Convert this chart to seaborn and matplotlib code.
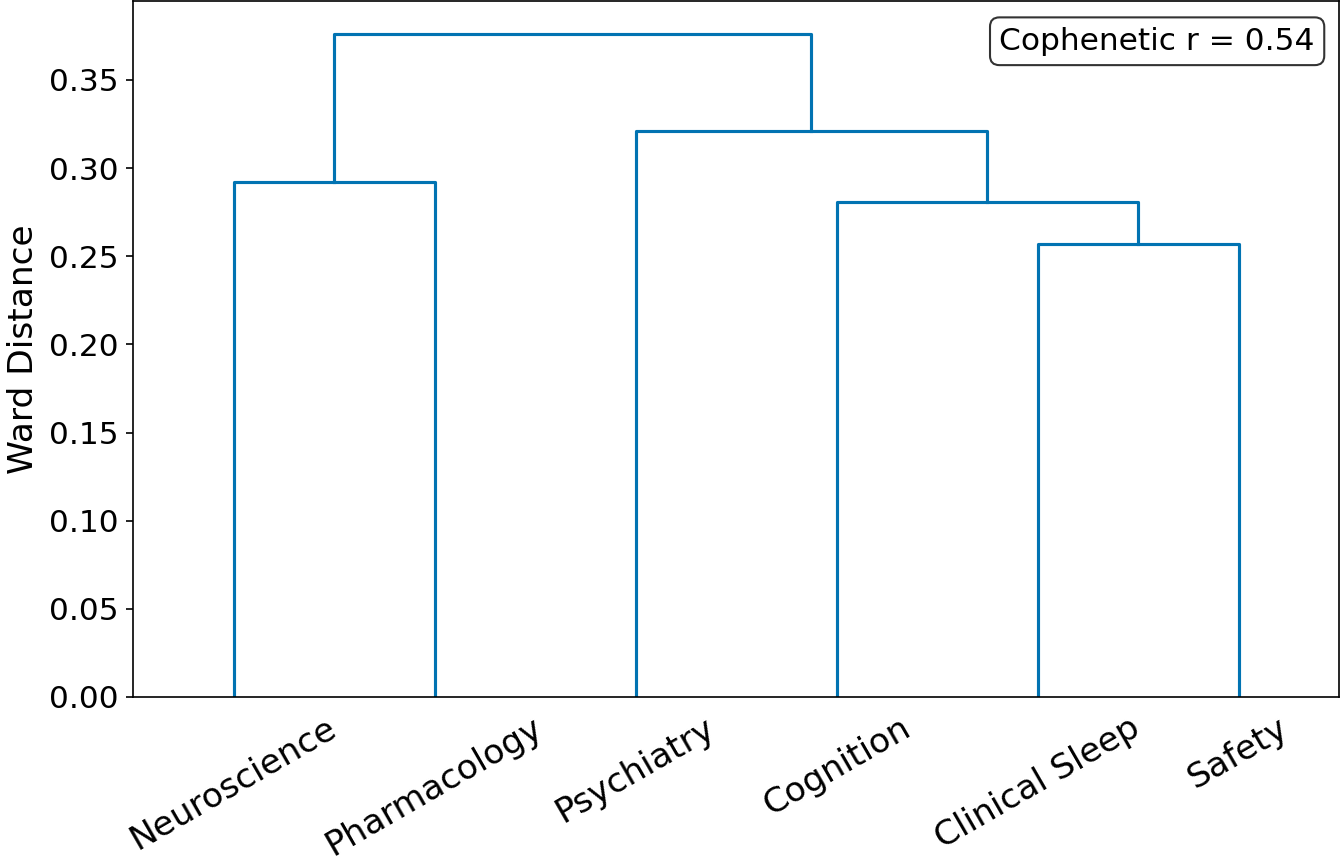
import numpy as np
import pandas as pd
import matplotlib.pyplot as plt
import seaborn as sns

# leaves in display order
labels = ["Neuroscience", "Pharmacology", "Psychiatry", "Cognition", "Clinical Sleep", "Safety"]
# linkage: (left node, right node, height); new nodes numbered from len(labels)
merge_left = [4, 3, 0, 2, 8]
merge_right = [5, 6, 1, 7, 9]
merge_height = [0.257, 0.281, 0.292, 0.321, 0.376]
cophenetic_r = 0.54

# build the dendrogram segments (scipy style: leaves at 5, 15, 25, ...)
pos = {i: 5 + 10 * i for i in range(len(labels))}
hgt = {i: 0.0 for i in range(len(labels))}
rows = []
for k, (a, b, h) in enumerate(zip(merge_left, merge_right, merge_height)):
    xs = [pos[a], pos[a], pos[b], pos[b]]
    ys = [hgt[a], h, h, hgt[b]]
    for j, (x, y) in enumerate(zip(xs, ys)):
        rows.append({"link": k, "order": j, "x": x, "y": y})
    node = len(labels) + k
    pos[node] = (pos[a] + pos[b]) / 2
    hgt[node] = h
df = pd.DataFrame(rows)

fig = plt.figure(figsize=(1340 / 150, 862 / 150), dpi=150)
ax = fig.add_axes([133 / 1340, 165 / 862, 1206 / 1340, 696 / 862])

sns.lineplot(data=df, x="x", y="y", units="link", estimator=None, sort=False,
             color="#0173b2", linewidth=1.5, ax=ax)

ax.set_xlim(0, 10 * len(labels))
ax.set_ylim(0, max(merge_height) * 1.05)
ax.set_xticks([5 + 10 * i for i in range(len(labels))])
ax.set_xticklabels(labels, rotation=30, fontsize=16.5)
ax.tick_params(axis="x", bottom=False)
yt = np.arange(0, 0.36, 0.05)
ax.set_yticks(yt)
ax.set_yticklabels([f"{v:.2f}" for v in yt], fontsize=15)
ax.set_xlabel("")
ax.set_ylabel("Ward Distance", fontsize=16.5)

ax.text(0.98, 0.963, f"Cophenetic r = {cophenetic_r:.2f}", transform=ax.transAxes,
        ha="right", va="top", fontsize=15,
        bbox=dict(boxstyle="round", facecolor="white", edgecolor="black", alpha=0.8))

fig.savefig("out.png", dpi=150)
